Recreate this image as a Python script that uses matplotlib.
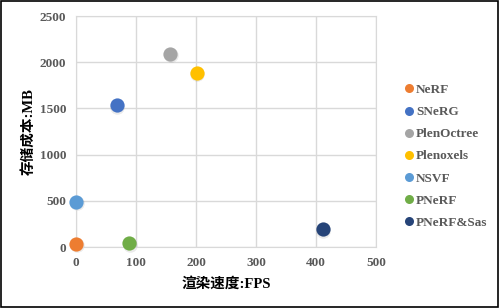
import matplotlib.pyplot as plt
from matplotlib.lines import Line2D
from matplotlib.patches import Rectangle

methods = ['NeRF', 'SNeRG', 'PlenOctree', 'Plenoxels', 'NSVF', 'PNeRF', 'PNeRF&Sas']
fps = [0, 68, 157, 201, 0, 89, 411]
storage_mb = [35, 1537, 2092, 1886, 490, 40, 191]
colors = ['#ed7d31', '#4472c4', '#a5a5a5', '#ffc000', '#5b9bd5', '#70ad47', '#264478']

plt.rcParams['font.family'] = ['Liberation Serif', 'Noto Sans CJK SC']
plt.rcParams['font.weight'] = 'bold'

fig = plt.figure(figsize=(4.99, 3.08), dpi=100)
ax = fig.add_axes([0.1523, 0.198, 0.6012, 0.75])

for name, x, y, c in zip(methods, fps, storage_mb, colors):
    # faint shadow under each point
    ax.scatter(x + 1, y - 18, s=110, color='#000000', alpha=0.08, zorder=2,
               linewidths=0, clip_on=False)
    ax.scatter(x, y, s=105, color=c, zorder=3, linewidths=0, label=name, clip_on=False)

ax.set_xlim(0, 500)
ax.set_ylim(0, 2500)
ax.set_xticks([0, 100, 200, 300, 400, 500])
ax.set_yticks([0, 500, 1000, 1500, 2000, 2500])
ax.grid(True, color='#d9d9d9', linewidth=1)
ax.set_axisbelow(True)
for s in ax.spines.values():
    s.set_color('#d9d9d9')
ax.tick_params(length=0, labelsize=9.5, labelcolor='#595959', pad=7)
for lab in ax.get_xticklabels() + ax.get_yticklabels():
    lab.set_fontweight('bold')

ax.set_xlabel('渲染速度:FPS', fontsize=10.5, fontweight='bold', labelpad=6)
ax.set_ylabel('存储成本:MB', fontsize=10.5, fontweight='bold', labelpad=2)

handles = [Line2D([], [], marker='o', linestyle='', markersize=6.5,
                  markerfacecolor=c, markeredgewidth=0) for c in colors]
leg = fig.legend(handles, methods, loc='upper left', bbox_to_anchor=(0.795, 0.745),
                 frameon=False, fontsize=9.5, handletextpad=0.05, labelspacing=0.75,
                 handlelength=1.0, borderaxespad=0)
for t in leg.get_texts():
    t.set_color('#595959')
    t.set_fontweight('bold')

fig.patches.append(Rectangle((0.002, 0.003), 0.996, 0.994, transform=fig.transFigure,
                             fill=False, edgecolor='black', linewidth=1.2))

fig.savefig('out.png', dpi=100)
